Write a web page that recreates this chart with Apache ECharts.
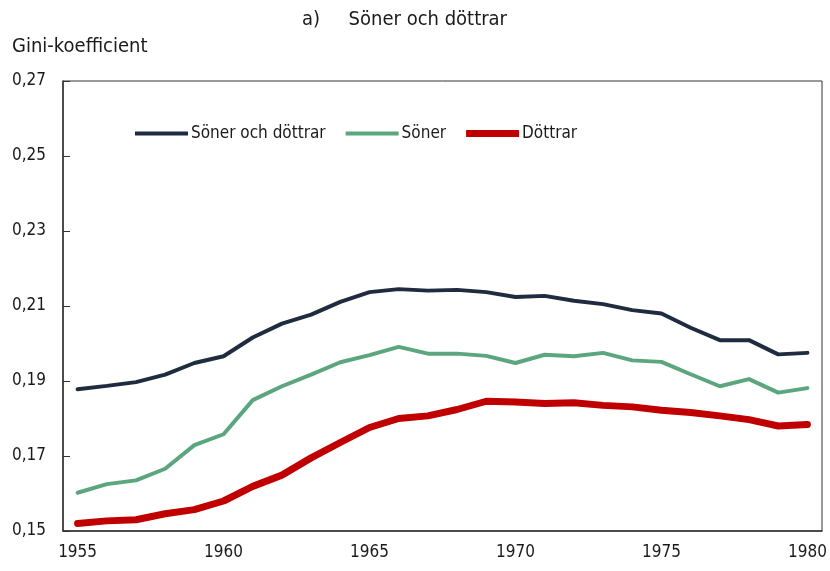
<!DOCTYPE html>
<html>
<head>
<meta charset="utf-8">
<script src="https://cdn.jsdelivr.net/npm/echarts@6/dist/echarts.min.js"></script>
<style>
  html, body { margin: 0; padding: 0; background: #fff; }
  #chart { width: 830px; height: 571px; }
</style>
</head>
<body>
<div id="chart"></div>
<script>
const years = ['1955', '1956', '1957', '1958', '1959', '1960', '1961', '1962', '1963', '1964',
  '1965', '1966', '1967', '1968', '1969', '1970', '1971', '1972', '1973', '1974',
  '1975', '1976', '1977', '1978', '1979', '1980']
const sonerOchDottrar = [0.1878, 0.1887, 0.1897, 0.1917, 0.1948, 0.1966, 0.2016, 0.2053, 0.2077, 0.2111,
  0.2137, 0.2145, 0.2141, 0.2143, 0.2137, 0.2124, 0.2127, 0.2114, 0.2105, 0.2089,
  0.2080, 0.2042, 0.2009, 0.2009, 0.1971, 0.1975]
const soner = [0.1602, 0.1625, 0.1635, 0.1666, 0.1729, 0.1758, 0.1849, 0.1886, 0.1917, 0.1950,
  0.1969, 0.1991, 0.1973, 0.1973, 0.1967, 0.1948, 0.1970, 0.1966, 0.1975, 0.1955,
  0.1951, 0.1918, 0.1886, 0.1905, 0.1869, 0.1881]
const dottrar = [0.1520, 0.1527, 0.1530, 0.1546, 0.1557, 0.1580, 0.1619, 0.1649, 0.1695, 0.1736,
  0.1776, 0.1800, 0.1807, 0.1824, 0.1846, 0.1844, 0.1840, 0.1842, 0.1835, 0.1831,
  0.1822, 0.1816, 0.1807, 0.1797, 0.1780, 0.1784]
const yTicks = [0.15, 0.17, 0.19, 0.21, 0.23, 0.25, 0.27]

const font = '"Liberation Sans Narrow", "DejaVu Sans Condensed", "Roboto", sans-serif'
const textColor = '#1a1a1a'
const axisColor = '#333'

// legend icons: thin bar inside a 7 unit tall box so all share one itemHeight
const thinIcon = 'path://M0,0L0,7M0,1.5L53,1.5L53,5.5L0,5.5Z'
const thickIcon = 'path://M0,0L53,0L53,7L0,7Z'

const chart = echarts.init(document.getElementById('chart'))

const option = {
  animation: false,
  textStyle: { fontFamily: font },
  title: [
    {
      text: 'a)     Söner och döttrar',
      left: 297,
      top: 5,
      textStyle: { fontFamily: font, fontSize: 20, fontWeight: 'normal', color: textColor }
    },
    {
      text: 'Gini-koefficient',
      left: 7,
      top: 32,
      textStyle: { fontFamily: font, fontSize: 20, fontWeight: 'normal', color: textColor }
    }
  ],
  legend: {
    left: 130,
    top: 120,
    itemWidth: 53,
    itemHeight: 7,
    itemGap: 20,
    textStyle: { fontFamily: font, fontSize: 17, color: textColor, padding: [0, 0, 0, -2] },
    data: [
      { name: 'Söner och döttrar', icon: thinIcon },
      { name: 'Söner', icon: thinIcon },
      { name: 'Döttrar', icon: thickIcon }
    ]
  },
  grid: {
    left: 63,
    right: 8,
    top: 81,
    bottom: 40,
    show: true,
    borderColor: axisColor,
    borderWidth: 1
  },
  xAxis: [
    {
      type: 'category',
      data: years,
      boundaryGap: true,
      axisLine: { lineStyle: { color: axisColor, width: 1.5 } },
      axisTick: { interval: 0, length: 6, lineStyle: { color: axisColor } },
      axisLabel: { interval: 4, margin: 13, fontSize: 17, color: textColor, fontFamily: font }
    },
    {
      type: 'category',
      data: years,
      boundaryGap: true,
      position: 'bottom',
      axisLine: { show: false },
      axisTick: { interval: 0, inside: true, length: 5, lineStyle: { color: axisColor } },
      axisLabel: { show: false }
    }
  ],
  yAxis: {
    type: 'value',
    min: 0.15,
    max: 0.27,
    interval: 0.01,
    axisLine: { show: true, lineStyle: { color: axisColor, width: 1.5 } },
    axisTick: { show: true, inside: true, length: 7, customValues: yTicks, lineStyle: { color: axisColor } },
    splitLine: { show: false },
    axisLabel: {
      customValues: yTicks,
      margin: 17,
      fontSize: 17,
      color: textColor,
      fontFamily: font,
      formatter: v => v.toFixed(2).replace('.', ',')
    }
  },
  series: [
    {
      name: 'Söner och döttrar',
      type: 'line',
      data: sonerOchDottrar,
      symbol: 'none',
      color: '#1f2b3e',
      lineStyle: { width: 4, color: '#1f2b3e', cap: 'round' }
    },
    {
      name: 'Söner',
      type: 'line',
      data: soner,
      symbol: 'none',
      color: '#5ba67e',
      lineStyle: { width: 4, color: '#5ba67e', cap: 'round' }
    },
    {
      name: 'Döttrar',
      type: 'line',
      data: dottrar,
      symbol: 'none',
      color: '#c00000',
      lineStyle: { width: 7, color: '#c00000', cap: 'round' }
    }
  ]
}

chart.setOption(option)
</script>
</body>
</html>
